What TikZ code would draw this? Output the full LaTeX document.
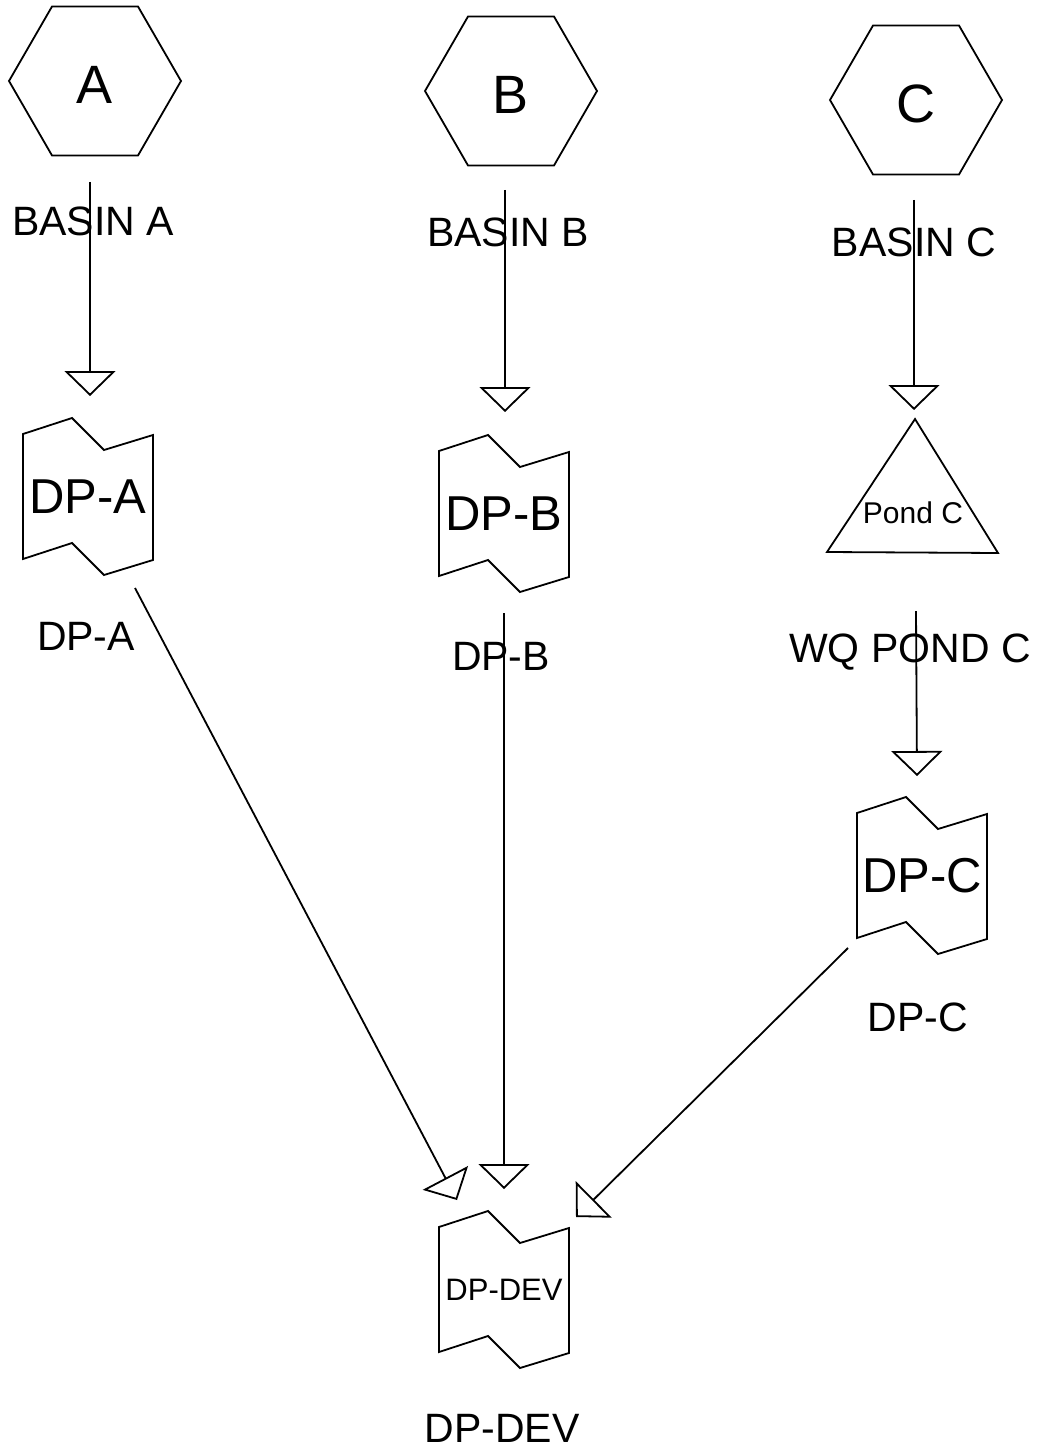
\documentclass[tikz,border=0pt]{standalone}
\usepackage{fontspec}
\setmainfont{Liberation Sans}
\usetikzlibrary{arrows.meta,shapes.geometric,calc}
\tikzset{
  lw/.style={line width=1.8pt},
  hexa/.style={draw, lw, regular polygon, regular polygon sides=6, minimum size=172pt, inner sep=0pt, font=\fontsize{54}{60}\selectfont},
  lbl/.style={inner sep=0pt, font=\fontsize{41}{48}\selectfont},
  dptext/.style={inner sep=0pt, font=\fontsize{49}{56}\selectfont},
  dpsmall/.style={inner sep=0pt, font=\fontsize{31}{36}\selectfont},
  pondtext/.style={inner sep=0pt, font=\fontsize{30}{34}\selectfont},
  flow/.style={lw, -{Triangle[open, length=25pt, width=51pt]}, line join=miter},
  dpline/.style={lw, line join=miter}
}
\newcommand\dpshape[1]{%
  \draw[dpline] ($(#1)+(-65,-63)$) -- ($(#1)+(-16,-79)$) -- ($(#1)+(16,-47)$) -- ($(#1)+(65,-62)$)
    -- ($(#1)+(65,63)$) -- ($(#1)+(16,78)$) -- ($(#1)+(-16,46)$) -- ($(#1)+(-65,62)$) -- cycle;}
\newcommand\lowered[1]{\raisebox{-4pt}[\height][0pt]{#1}}
\begin{document}
\begin{tikzpicture}[x=1pt, y=-1pt]
\useasboundingbox (0,0) rectangle (1039,1450);
% sources
\node[hexa] (hexA) at (95,81) {\lowered{A}};
\node[hexa] (hexB) at (511,91) {\lowered{B}};
\node[hexa] (hexC) at (916,100) {\lowered{C}};
\node[lbl] (basA) at (93,221) {BASIN A};
\node[lbl] (basB) at (508,232) {BASIN B};
\node[lbl] (basC) at (914,242) {BASIN C};
% design points
\node[dptext] (dpA) at (88,497) {DP-A};
\node[dptext] (dpB) at (504,514) {DP-B};
\node[dptext] (dpC) at (922,876) {DP-C};
\node[dpsmall] (dpD) at (504,1290) {DP-DEV};
\dpshape{dpA}
\dpshape{dpB}
\dpshape{dpC}
\dpshape{dpD}
\node[lbl] (labA) at (86,636) {DP-A};
\node[lbl] (labB) at (501,656) {DP-B};
\node[lbl] (labC) at (918,1017) {DP-C};
\node[lbl] (labD) at (502,1428) {DP-DEV};
% pond
\node[pondtext] (pond) at (913,513) {Pond C};
\draw[dpline] ($(pond)+(2,-94)$) -- ($(pond)+(85,40)$) -- ($(pond)+(-86,39)$) -- cycle;
\node[lbl] (labP) at (910,652) {WQ POND C};
% connector ends
\coordinate (sA) at (90,182);  \coordinate (tA) at (90,396);
\coordinate (sB) at (505,190); \coordinate (tB) at (505,412);
\coordinate (sC) at (914,200); \coordinate (tC) at (914,410);
\coordinate (sP) at (916,611); \coordinate (tP) at (917,776);
\coordinate (sDA) at (135,588); \coordinate (tDA) at (457,1200);
\coordinate (sDB) at (504,613); \coordinate (tDB) at (504,1189);
\coordinate (sDC) at (848,948); \coordinate (tDC) at (576,1217);
\draw[flow] (sA) -- (tA);
\draw[flow] (sB) -- (tB);
\draw[flow] (sC) -- (tC);
\draw[flow] (sP) -- (tP);
\draw[flow] (sDA) -- (tDA);
\draw[flow] (sDB) -- (tDB);
\draw[flow] (sDC) -- (tDC);
\end{tikzpicture}
\end{document}
